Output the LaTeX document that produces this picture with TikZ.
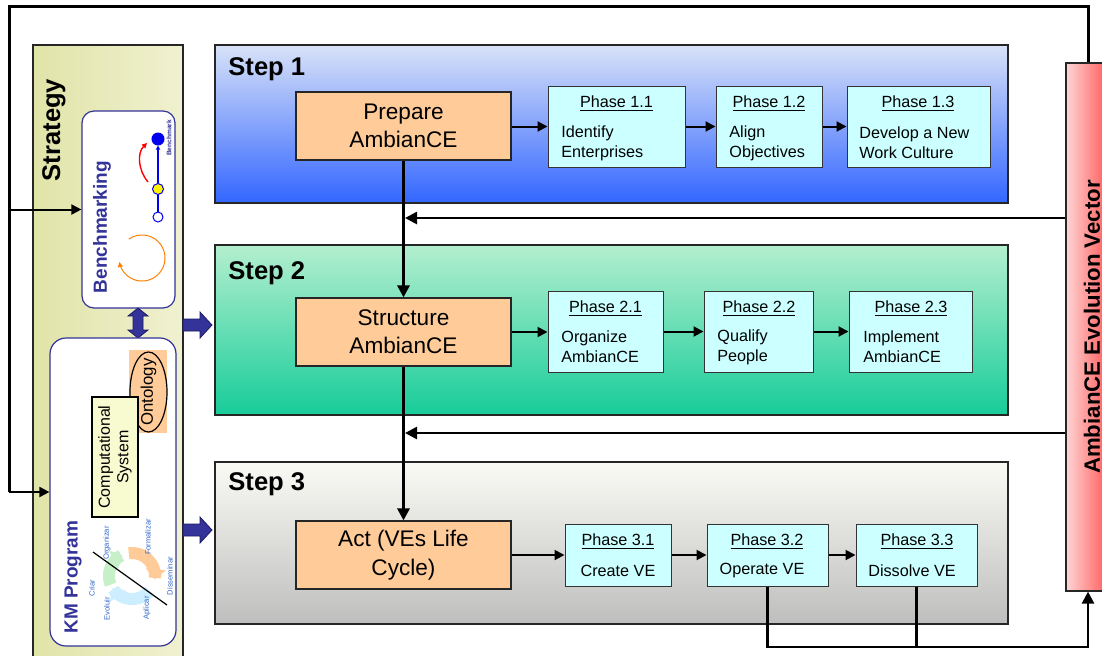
\documentclass[tikz,border=0pt]{standalone}
\usepackage{fontspec}
\setmainfont{Liberation Sans}
\usetikzlibrary{arrows.meta,shapes.geometric,calc}
\definecolor{peach}{HTML}{FFCC99}
\definecolor{cyanbox}{HTML}{CCFFFF}
\definecolor{navy}{HTML}{333399}
\definecolor{navyline}{HTML}{1A1A66}
\definecolor{lblue}{HTML}{3366CC}
\definecolor{stratL}{HTML}{E0E4A8}
\definecolor{stratR}{HTML}{F0F1D0}
\definecolor{sOneT}{HTML}{D8E2F8}
\definecolor{sOneB}{HTML}{3366FF}
\definecolor{sTwoT}{HTML}{B4EFCF}
\definecolor{sTwoB}{HTML}{17CC99}
\definecolor{sThrT}{HTML}{FAFAF5}
\definecolor{sThrB}{HTML}{BEBEBE}
\definecolor{vecL}{HTML}{FFD5D5}
\definecolor{vecR}{HTML}{FF6060}
\definecolor{compfill}{HTML}{F8FBD0}
\definecolor{cycgreen}{HTML}{C8F0C8}
\definecolor{cycorange}{HTML}{FFCC99}
\definecolor{cycblue}{HTML}{CCEEFF}
\definecolor{benchblue}{HTML}{0000EE}
\begin{document}
\begin{tikzpicture}[x=0.5pt,y=-0.5pt,
  stepbox/.style={draw=black!85, line width=0.6pt, inner sep=0pt, minimum width=396.5pt},
  mainbox/.style={draw=black!85, fill=peach, line width=0.6pt, inner sep=0pt, minimum width=107.5pt, minimum height=34pt, align=center, font=\fontsize{11.3}{14}\selectfont},
  phasebox/.style={draw=black!80, fill=cyanbox, line width=0.5pt, inner sep=0pt, minimum height=40.5pt},
  ptitle/.style={font=\fontsize{8.1}{9.7}\selectfont, inner sep=0pt},
  pbody/.style={font=\fontsize{8.1}{10}\selectfont, align=left, inner sep=0pt, anchor=west},
  flow/.style={line width=1pt, -{Triangle[length=5pt,width=5pt]}},
  spine/.style={line width=1.6pt, -{Triangle[length=6pt,width=6pt]}},
  loopline/.style={line width=1.3pt},
  steplabel/.style={font=\fontsize{12.8}{15}\selectfont\bfseries, anchor=west, inner sep=0pt},
  fatarrow/.style={fill=navy, draw=navyline, line width=0.4pt},
  tinylbl/.style={font=\fontsize{3.8}{4}\selectfont, text=lblue, rotate=90, inner sep=0pt}
]
\useasboundingbox (0,0) rectangle (1102,655);
\clip (0,0) rectangle (1102,655);

% ---------- Strategy panel ----------
\node[draw=black!85, line width=0.6pt, left color=stratL, right color=stratR, minimum width=75pt, minimum height=307.5pt, inner sep=0pt] (strat) at (108,352.5) {};
\node[rotate=90, font=\fontsize{12.8}{15}\selectfont\bfseries, inner sep=0pt] (strattxt) at (54,130) {Strategy};

% Benchmarking box
\node[draw=navy, fill=white, line width=0.6pt, rounded corners=6pt, minimum width=46.5pt, minimum height=98.5pt, inner sep=0pt] (bench) at (128.5,209.5) {};
\node[rotate=90, font=\fontsize{9.5}{11}\selectfont\bfseries, text=navy, inner sep=0pt] (benchtxt) at (102,227) {Benchmarking};
% benchmark graphic
\node[circle, draw=benchblue, fill=white, line width=0.5pt, minimum size=5pt, inner sep=0pt] (bw) at (158,217) {};
\node[circle, draw=benchblue, fill=yellow, line width=0.5pt, minimum size=5.5pt, inner sep=0pt] (by) at (158,189) {};
\node[circle, draw=benchblue, fill=benchblue, line width=0.5pt, minimum size=6pt, inner sep=0pt] (bb) at (158,139) {};
\draw[benchblue, line width=0.7pt] (bw) -- (by);
\draw[benchblue, line width=0.7pt, -{Triangle[length=2pt,width=2pt]}] (by) -- (bb);
\coordinate (ra) at (148,182);
\coordinate (rb) at (147,143);
\draw[red, line width=0.7pt, -{Triangle[length=2.5pt,width=2.5pt]}] (ra) .. controls (138,170) and (137,153) .. (rb);
\node[rotate=90, font=\fontsize{3.3}{4}\selectfont\bfseries, text=navy, inner sep=0pt] (benchsmall) at (169,138) {Benchmark};
\draw[orange, line width=0.5pt, -{Triangle[length=2.5pt,width=2.5pt]}] plot[domain=235:530, samples=60, variable=\t] ({142+23*cos(\t)},{258+23*sin(\t)});

% double arrow between Benchmarking and KM Program
\draw[fatarrow] (133,316) -- (128,316) -- (138,308) -- (148,316) -- (143,316) -- (143,330) -- (148,330) -- (138,338) -- (128,330) -- (133,330) -- cycle;

% KM Program box
\node[draw=navy, fill=white, line width=0.6pt, rounded corners=8pt, minimum width=63pt, minimum height=154pt, inner sep=0pt] (km) at (113,492) {};
\node[rotate=90, font=\fontsize{9.5}{11}\selectfont\bfseries, text=navy, inner sep=0pt] (kmtxt) at (73,577) {KM Program};
% Ontology
\node[fill=peach, minimum width=19pt, minimum height=41.5pt, inner sep=0pt] (ontobg) at (148,391.5) {};
\node[ellipse, draw=black, line width=0.6pt, minimum width=18.5pt, minimum height=40pt, inner sep=0pt] (onto) at (148.5,392) {};
\node[rotate=90, font=\fontsize{8.4}{10}\selectfont, inner sep=0pt] (ontotxt) at (onto) {Ontology};
% Computational system
\node[draw=black, fill=compfill, line width=0.6pt, minimum width=23pt, minimum height=60pt, inner sep=0pt] (comp) at (115,457) {};
\node[rotate=90, font=\fontsize{8}{9.2}\selectfont, align=center, inner sep=0pt] (comptxt) at (comp) {Computational\\System};
% KM cycle graphic
\draw[cycblue, line width=6pt, -{Triangle[length=5pt,width=10pt]}] plot[domain=40:148, samples=30, variable=\t] ({132+23*cos(\t)},{576+23*sin(\t)});
\draw[cycgreen, line width=6pt, -{Triangle[length=5pt,width=10pt]}] plot[domain=158:245, samples=30, variable=\t] ({132+23*cos(\t)},{576+23*sin(\t)});
\draw[cycorange, line width=6pt, -{Triangle[length=5pt,width=10pt]}] plot[domain=262:368, samples=30, variable=\t] ({132+23*cos(\t)},{576+23*sin(\t)});
\coordinate (dg1) at (93,552);
\coordinate (dg2) at (167,605);
\draw[black, line width=0.6pt] (dg1) -- (dg2);
\node[tinylbl] (lcriar) at (92,588) {Criar};
\node[tinylbl] (lorg) at (107,543) {Organizar};
\node[tinylbl] (lform) at (148,537) {Formalizar};
\node[tinylbl] (ldiss) at (170,576) {Disseminar};
\node[tinylbl] (lapl) at (147,608) {Aplicar};
\node[tinylbl] (levo) at (107,609) {Evoluir};

% fat arrows to steps
\draw[fatarrow] (183,319) -- (200,319) -- (200,312) -- (212,325) -- (200,338) -- (200,331) -- (183,331) -- cycle;
\draw[fatarrow] (183,524) -- (200,524) -- (200,517) -- (212,530) -- (200,543) -- (200,536) -- (183,536) -- cycle;

% ---------- Step boxes ----------
\node[stepbox, top color=sOneT, bottom color=sOneB, minimum height=79pt] (s1) at (611.5,124) {};
\node[stepbox, top color=sTwoT, bottom color=sTwoB, minimum height=85pt] (s2) at (611.5,330) {};
\node[stepbox, top color=sThrT, bottom color=sThrB, minimum height=81pt] (s3) at (611.5,543) {};
\node[steplabel] (s1t) at (228,69) {Step 1};
\node[steplabel] (s2t) at (228,273) {Step 2};
\node[steplabel] (s3t) at (228,484) {Step 3};

% main boxes
\node[mainbox] (prep) at (403.5,126) {Prepare\\AmbianCE};
\node[mainbox] (struc) at (403.5,332) {Structure\\AmbianCE};
\node[mainbox, font=\fontsize{11.3}{14.5}\selectfont] (act) at (403.5,555) {Act (VEs Life\\Cycle)};

% Step 1 phases
\node[phasebox, minimum width=68.5pt] (p11) at (616.5,126.5) {};
\node[ptitle] (p11t) at (616.5,103.5) {\underline{Phase 1.1}};
\node[pbody] (p11b) at (561,143) {Identify\\Enterprises};
\node[phasebox, minimum width=53pt] (p12) at (769,126.5) {};
\node[ptitle] (p12t) at (769,103.5) {\underline{Phase 1.2}};
\node[pbody] (p12b) at (729,143) {Align\\Objectives};
\node[phasebox, minimum width=71.5pt] (p13) at (918.5,126.5) {};
\node[ptitle] (p13t) at (918,103.5) {\underline{Phase 1.3}};
\node[pbody] (p13b) at (859,143) {Develop a New\\Work Culture};

% Step 2 phases
\node[phasebox, minimum width=57.5pt] (p21) at (605.5,331.5) {};
\node[ptitle] (p21t) at (605.5,309) {\underline{Phase 2.1}};
\node[pbody] (p21b) at (561,347) {Organize\\AmbianCE};
\node[phasebox, minimum width=54.5pt] (p22) at (758.5,331.5) {};
\node[ptitle] (p22t) at (759,309) {\underline{Phase 2.2}};
\node[pbody] (p22b) at (717,347) {Qualify\\People};
\node[phasebox, minimum width=61.5pt] (p23) at (910.5,331.5) {};
\node[ptitle] (p23t) at (911,309) {\underline{Phase 2.3}};
\node[pbody] (p23b) at (863,347) {Implement\\AmbianCE};

% Step 3 phases
\node[phasebox, minimum width=53pt, minimum height=31pt] (p31) at (618,555) {};
\node[ptitle] (p31t) at (618,542) {\underline{Phase 3.1}};
\node[ptitle] (p31b) at (618,570.5) {Create VE};
\node[phasebox, minimum width=60.5pt, minimum height=31pt] (p32) at (767.5,555) {};
\node[ptitle] (p32t) at (767,542) {\underline{Phase 3.2}};
\node[ptitle] (p32b) at (762,571) {Operate VE};
\node[phasebox, minimum width=60.5pt, minimum height=31pt] (p33) at (916.5,555) {};
\node[ptitle] (p33t) at (917,542) {\underline{Phase 3.3}};
\node[ptitle] (p33b) at (912,571) {Dissolve VE};

% phase flows
\draw[flow] (prep.east |- p11) -- (p11.west);
\draw[flow] (p11) -- (p12);
\draw[flow] (p12) -- (p13);
\draw[flow] (struc.east) -- (p21.west |- struc.east);
\draw[flow] (p21) -- (p22);
\draw[flow] (p22) -- (p23);
\draw[flow] (act.east) -- (p31.west |- act.east);
\draw[flow] (p31) -- (p32);
\draw[flow] (p32) -- (p33);

% spine
\draw[spine] (prep.south) -- (struc.north);
\draw[spine] (struc.south) -- (act.north);

% ---------- Evolution vector ----------
\node[draw=black!85, line width=0.6pt, left color=vecL, right color=vecR, minimum width=20pt, minimum height=264pt, inner sep=0pt] (vec) at (1086,327) {};
\node[rotate=90, font=\fontsize{11.1}{13}\selectfont\bfseries, inner sep=0pt] (vectxt) at (1092,327) {AmbianCE Evolution Vector};

% feedback lines
\coordinate (fb1) at (405,218);
\coordinate (fb2) at (405,433);
\draw[loopline, -{Triangle[length=6pt,width=6pt]}] (fb1 -| vec.west) -- (fb1);
\draw[loopline, -{Triangle[length=6pt,width=6pt]}] (fb2 -| vec.west) -- (fb2);

% top loop
\coordinate (tr) at (1088,6);
\coordinate (tl) at (9,6);
\draw[line width=1.5pt] (vec.north -| tr) -- (tr) -- (tl) -- (tl |- km.west);
\draw[line width=1pt, -{Triangle[length=5pt,width=5pt]}] (tl |- bench.west) -- (bench.west);
\draw[line width=1pt, -{Triangle[length=5pt,width=5pt]}] (tl |- km.west) -- (km.west);

% bottom loop
\coordinate (bl) at (767,647);
\draw[loopline, -{Triangle[length=6pt,width=6pt]}] (p32.south) -- (p32.south |- bl) -- (tr |- bl) -- (tr |- vec.south);
\draw[black, line width=1.1pt] (p33.south) -- (p33.south |- bl);
\end{tikzpicture}
\end{document}
